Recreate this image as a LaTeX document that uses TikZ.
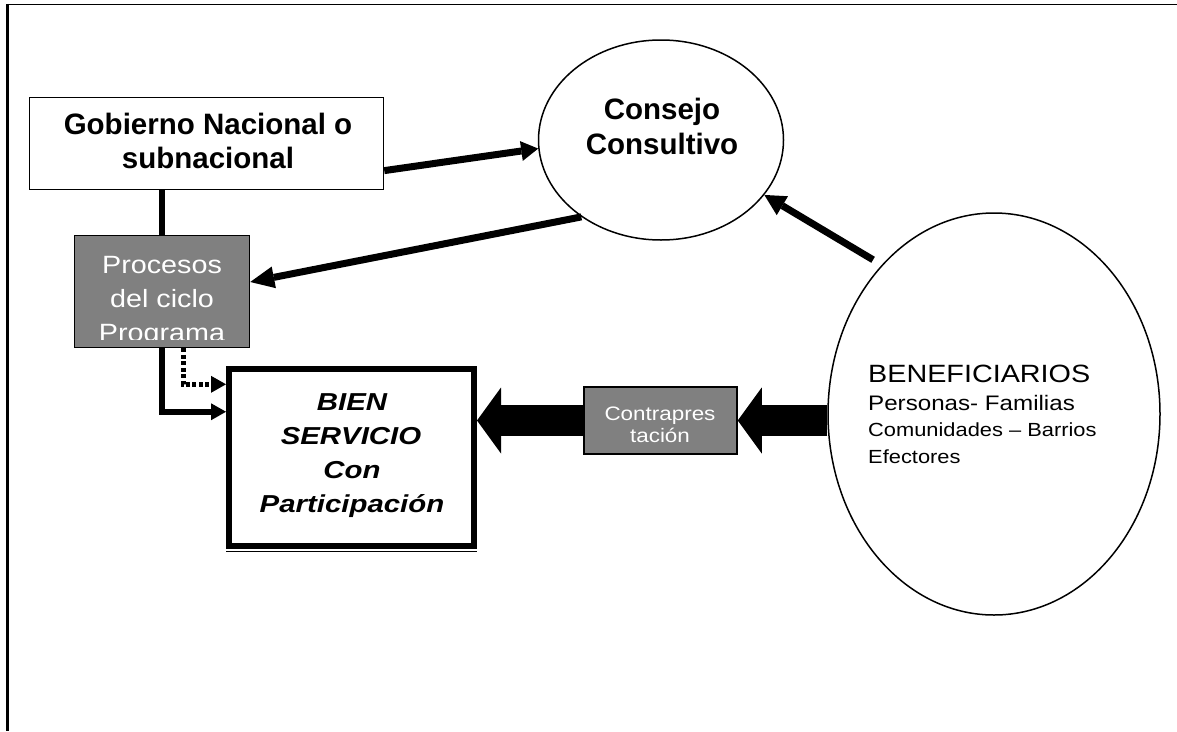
\documentclass[tikz,border=0pt]{standalone}
\usepackage{fontspec}
\setmainfont{Liberation Sans}
\newfontfamily\wsans[FakeStretch=1.15]{Liberation Sans}
\newfontfamily\wbsans[FakeStretch=1.2]{Liberation Sans}
\usetikzlibrary{shapes.geometric,arrows.meta,calc}
\definecolor{boxgray}{HTML}{808080}
\pgfdeclarelayer{bg}
\pgfsetlayers{bg,main}
\begin{document}
\begin{tikzpicture}[x=1pt,y=-1pt,
  box/.style={draw, line width=1.5pt, inner sep=0pt},
  gbox/.style={box, fill=boxgray},
  oval/.style={ellipse, draw, line width=1.5pt, inner sep=0pt},
  txt/.style={inner sep=0pt, anchor=base},
  tb/.style={txt, font=\fontsize{29.5}{34}\selectfont\bfseries},
  tbi/.style={txt, font=\wbsans\fontsize{24.5}{34}\selectfont\bfseries\itshape},
  tw/.style={txt, text=white, font=\wsans\fontsize{25}{30}\selectfont},
  tc/.style={txt, text=white, font=\wsans\fontsize{19.5}{22}\selectfont},
  tben/.style={inner sep=0pt, anchor=base west},
  link/.style={line width=6pt},
  con/.style={line width=7pt},
  blockarrow/.style={line width=31pt, -{Triangle[length=24pt,width=66pt,line width=0pt]}}
]
\useasboundingbox (0,0) rectangle (1177,731);
% frame
\draw[line width=1.5pt] (1177,4.5) -- (6.5,4.5);
\draw[line width=2.5pt] (7.5,3.8) -- (7.5,731);

% nodes
\node[box, minimum width=354pt, minimum height=92pt] (gob) at (206.5,143.5) {};
\node[gbox, minimum width=175pt, minimum height=112pt] (proc) at (162,291.5) {};
\node[draw, line width=6pt, minimum width=245pt, minimum height=177pt, inner sep=0pt] (bien) at (351.5,457.5) {};
\draw[line width=1.5pt] ([yshift=-2.5pt]bien.south west) -- ([yshift=-2.5pt]bien.south east);
\node[gbox, minimum width=153pt, minimum height=67pt] (contra) at (660.5,420.5) {};
\node[oval, minimum width=245pt, minimum height=200pt] (cons) at (661,140) {};
\node[oval, minimum width=332pt, minimum height=402pt] (ben) at (994,414) {};

% texts
\node[tb] (gobT1) at (208,134) {Gobierno Nacional o};
\node[tb] (gobT2) at (208,168) {subnacional};
\node[tb] (consT1) at (662,119) {Consejo};
\node[tb] (consT2) at (662,154) {Consultivo};
\begin{scope}
\clip (75,236) rectangle (249,339);
\node[tw] (procT1) at (162,273) {Procesos};
\node[tw] (procT2) at (162,307) {del ciclo};
\node[tw] (procT3) at (162,341) {Programa};
\end{scope}
\node[tbi] (bienT1) at (352,410) {BIEN};
\node[tbi] (bienT2) at (351,444) {SERVICIO};
\node[tbi] (bienT3) at (352,478) {Con};
\node[tbi] (bienT4) at (352,512) {Participación};
\node[tc] (contraT1) at (660,420.7) {Contrapres};
\node[tc] (contraT2) at (660,442.7) {tación};
\node[tben, font=\wsans\fontsize{25}{30}\selectfont] (benT1) at (868,382) {BENEFICIARIOS};
\node[tben, font=\wsans\fontsize{21}{26}\selectfont] (benT2) at (868,410) {Personas- Familias};
\node[tben, font=\wsans\fontsize{19}{24}\selectfont] (benT3) at (868,436) {Comunidades – Barrios};
\node[tben, font=\wsans\fontsize{19}{24}\selectfont] (benT4) at (868,463) {Efectores};

% connectors
\begin{pgfonlayer}{bg}
\draw[link] (proc.north) -- (proc.north |- gob.south);
\draw[link, -{Triangle[length=15pt,width=17pt,line width=0pt]}] (proc.south) |- ($(bien.north west)!0.25!(bien.south west)$);
\draw[line width=5pt, dash pattern=on 4pt off 2.5pt, -{Triangle[length=15pt,width=17pt,line width=0pt]}] ([xshift=21pt]proc.south) |- ($(bien.north west)!0.1!(bien.south west)$);
\draw[con, -{Triangle[length=17pt,width=20pt,line width=0pt]}] ($(gob.north east)!0.79!(gob.south east)$) -- (cons.184);
\draw[con, -{Triangle[length=24pt,width=22pt,line width=0pt]}] (cons.224) -- ([yshift=9.5pt]proc.east);
\draw[con, shorten <=10pt, -{Triangle[length=21pt,width=22pt,line width=0pt]}] (ben.127) -- (cons.332);
\draw[blockarrow] (contra.east -| ben.west) -- (contra.east);
\draw[blockarrow] (contra.west) -- (bien.east |- contra.west);
\end{pgfonlayer}
\end{tikzpicture}
\end{document}
